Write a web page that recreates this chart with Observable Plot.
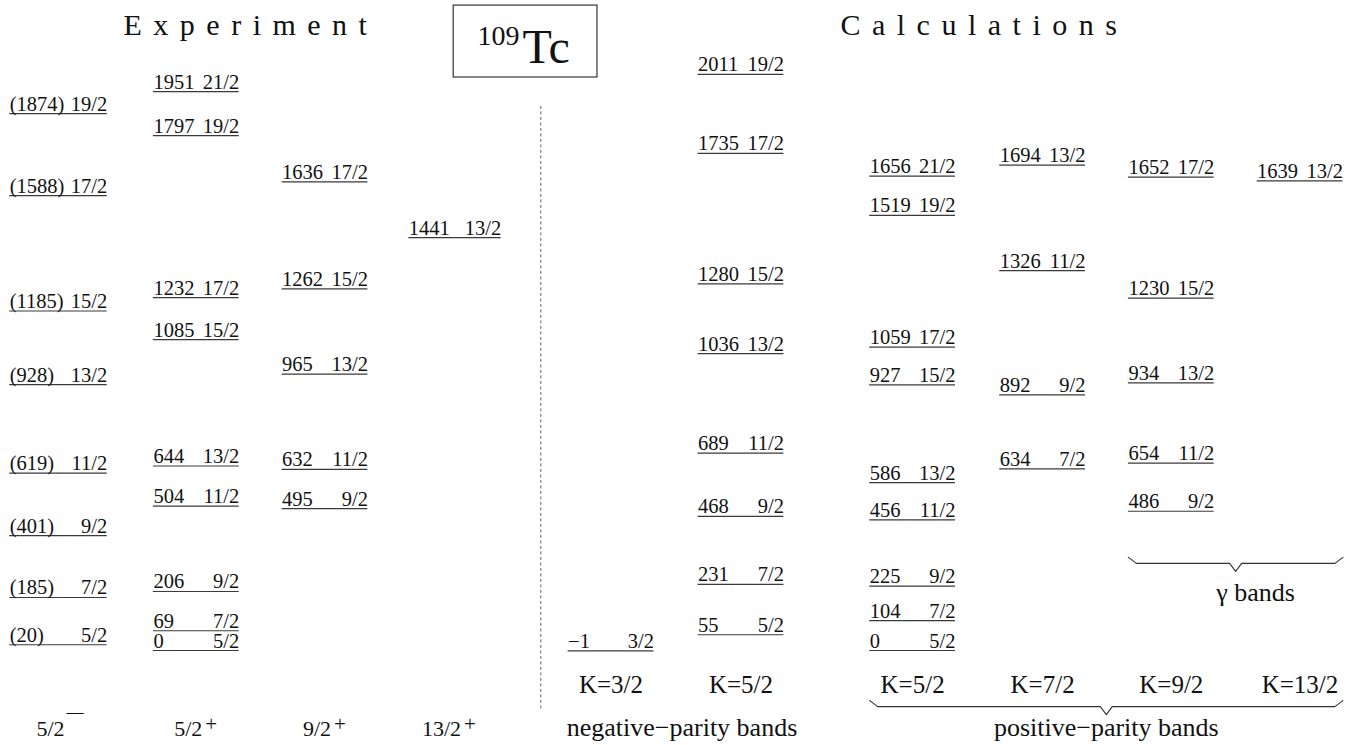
<!DOCTYPE html>
<html>
<head>
<meta charset="utf-8">
<script src="https://cdn.jsdelivr.net/npm/d3@7"></script>
<script src="https://cdn.jsdelivr.net/npm/@observablehq/plot@0.6"></script>
<style>
  html, body { margin: 0; padding: 0; background: #fff; }
  #chart svg { display: block; }
</style>
</head>
<body>
<div id="chart"></div>
<script>
// ---------------- data ----------------
// Experimental bands (levels in keV, spins)
const exp52mEnergy = [20, 185, 401, 619, 928, 1185, 1588, 1874];
const exp52mSpin   = ["5/2", "7/2", "9/2", "11/2", "13/2", "15/2", "17/2", "19/2"];
const exp52pEnergy = [0, 69, 206, 504, 644, 1085, 1232, 1797, 1951];
const exp52pSpin   = ["5/2", "7/2", "9/2", "11/2", "13/2", "15/2", "17/2", "19/2", "21/2"];
const exp92pEnergy = [495, 632, 965, 1262, 1636];
const exp92pSpin   = ["9/2", "11/2", "13/2", "15/2", "17/2"];
const exp132pEnergy = [1441];
const exp132pSpin   = ["13/2"];

// Calculated negative-parity bands
const negK32Energy = [-1];
const negK32Spin   = ["3/2"];
const negK52Energy = [55, 231, 468, 689, 1036, 1280, 1735, 2011];
const negK52Spin   = ["5/2", "7/2", "9/2", "11/2", "13/2", "15/2", "17/2", "19/2"];

// Calculated positive-parity bands
const posK52Energy = [0, 104, 225, 456, 586, 927, 1059, 1519, 1656];
const posK52Spin   = ["5/2", "7/2", "9/2", "11/2", "13/2", "15/2", "17/2", "19/2", "21/2"];
const posK72Energy = [634, 892, 1326, 1694];
const posK72Spin   = ["7/2", "9/2", "11/2", "13/2"];
const posK92Energy = [486, 654, 934, 1230, 1652];
const posK92Spin   = ["9/2", "11/2", "13/2", "15/2", "17/2"];
const posK132Energy = [1639];
const posK132Spin   = ["13/2"];

// Labels
const expBandIds    = ["e52m", "e52p", "e92p", "e132p"];
const expBandSpin   = ["5/2", "5/2", "9/2", "13/2"];
const expBandParity = ["—", "+", "+", "+"];
const calcBandIds   = ["n32", "n52", "p52", "p72", "p92", "p132"];
const calcKLabels   = ["K=3/2", "K=5/2", "K=5/2", "K=7/2", "K=9/2", "K=13/2"];
const titleTexts    = ["Experiment", "Calculations"];
const groupTexts    = ["negative−parity bands", "positive−parity bands", "γ bands"];
const nucleusMass   = "109";
const nucleusSymbol = "Tc";

// ---------------- layout (positions / sizes, not data) ----------------
const slot = {e52m: 0, e52p: 1.06, e92p: 2.05, e132p: 3.05,
              n32: 4.25, n52: 5.25, p52: 6.57, p72: 7.57, p92: 8.56, p132: 9.55};
const halfW = {e52m: 0.375, e132p: 0.355};
const half = id => halfW[id] ?? 0.33;
const X_DOMAIN = [0, 10], X_RANGE = [58, 1358];
const Y_DOMAIN = [0, 2000], Y_RANGE = [650, 77];
const pxPerSlot = (X_RANGE[1] - X_RANGE[0]) / (X_DOMAIN[1] - X_DOMAIN[0]);
const pxPerKeV  = (Y_RANGE[0] - Y_RANGE[1]) / (Y_DOMAIN[1] - Y_DOMAIN[0]);
const FONT = "Liberation Serif";
const INK = "#111";

// ---------------- build tables ----------------
const bands = [
  {id: "e52m", E: exp52mEnergy, J: exp52mSpin, paren: true},
  {id: "e52p", E: exp52pEnergy, J: exp52pSpin},
  {id: "e92p", E: exp92pEnergy, J: exp92pSpin},
  {id: "e132p", E: exp132pEnergy, J: exp132pSpin},
  {id: "n32", E: negK32Energy, J: negK32Spin},
  {id: "n52", E: negK52Energy, J: negK52Spin},
  {id: "p52", E: posK52Energy, J: posK52Spin},
  {id: "p72", E: posK72Energy, J: posK72Spin},
  {id: "p92", E: posK92Energy, J: posK92Spin},
  {id: "p132", E: posK132Energy, J: posK132Spin}
];
const levels = bands.flatMap(b => b.E.map((e, i) => ({
  band: b.id,
  E: e,
  spin: b.J[i],
  elabel: b.paren ? `(${e})` : String(e).replace("-", "−"),
  x1: slot[b.id] - half(b.id),
  x2: slot[b.id] + half(b.id)
})));

const expBottom = expBandIds.map((id, i) => ({x: slot[id], spin: expBandSpin[i], parity: expBandParity[i]}));
const kLabels = calcBandIds.map((id, i) => ({x: slot[id], text: calcKLabels[i]}));

// braces: from left edge of band a to right edge of band b
function brace(name, a, b, E) {
  const xa = slot[a] - half(a), xb = slot[b] + half(b), xm = (xa + xb) / 2;
  const inset = 8 / pxPerSlot, tipW = 6 / pxPerSlot;
  const rise = 6 / pxPerKeV, drop = 8 / pxPerKeV;
  return [
    [xa, E + rise], [xa + inset, E], [xm - tipW, E], [xm, E - drop],
    [xm + tipW, E], [xb - inset, E], [xb, E + rise]
  ].map(([x, y]) => ({name, x, y}));
}
const gammaBrace = brace("gamma", "p92", "p132", 304);
const posBrace = brace("pos", "p52", "p132", -196);
const braceMid = pts => pts[3].x;

const titles = [
  {text: titleTexts[0], x: 0.5, y: 2147},
  {text: titleTexts[1], x: 6.015, y: 2147}
];
const groups = [
  {text: groupTexts[0], x: (slot.n32 + slot.n52) / 2 + 6 / pxPerSlot, y: -297},
  {text: groupTexts[1], x: braceMid(posBrace), y: -297},
  {text: groupTexts[2], x: braceMid(gammaBrace) + 20 / pxPerSlot, y: 174}
];
const box = [{x1: 3.04, x2: 4.146, y1: 2000, y2: 2251}];
const divider = [{x: 3.71, y1: 1899, y2: -209}];

const textCommon = {fontFamily: FONT, fill: INK, lineAnchor: "bottom"};

const plot = Plot.plot({
  width: 1352,
  height: 745,
  margin: 0,
  x: {domain: X_DOMAIN, range: X_RANGE, axis: null},
  y: {domain: Y_DOMAIN, range: Y_RANGE, axis: null},
  style: {fontFamily: FONT, background: "#fff", color: INK},
  marks: [
    // level lines
    Plot.ruleY(levels, {y: "E", x1: "x1", x2: "x2", stroke: "#3a3a3a", strokeWidth: 1.2}),
    // energy labels (left) and spin labels (right)
    Plot.text(levels, {...textCommon, x: "x1", y: "E", text: "elabel", textAnchor: "start", dy: -3, fontSize: 20.5}),
    Plot.text(levels, {...textCommon, x: "x2", y: "E", text: "spin", textAnchor: "end", dy: -3, fontSize: 20.5}),
    // divider
    Plot.ruleX(divider, {x: "x", y1: "y1", y2: "y2", stroke: "#555", strokeWidth: 0.9, strokeDasharray: "3,2.5"}),
    // nucleus box
    Plot.rect(box, {x1: "x1", x2: "x2", y1: "y1", y2: "y2", fill: "none", stroke: "#333", strokeWidth: 1.2}),
    Plot.text([nucleusMass], {...textCommon, x: 3.223, y: 2112, text: d => d, textAnchor: "start", fontSize: 28}),
    Plot.text([nucleusSymbol], {...textCommon, x: 3.57, y: 2049, text: d => d, textAnchor: "start", fontSize: 48}),
    // titles
    Plot.text(titles, {...textCommon, x: "x", y: "y", text: "text", textAnchor: "start", fontSize: 30}),
    // experimental band labels
    Plot.text(expBottom, {...textCommon, x: "x", y: -297, text: "spin", textAnchor: "end", dx: 6, fontSize: 22}),
    Plot.text(expBottom.filter(d => d.parity === "+"), {...textCommon, x: "x", y: -297, text: "parity", textAnchor: "start", dx: 9, dy: -5, fontSize: 21}),
    Plot.text(expBottom.filter(d => d.parity !== "+"), {...textCommon, x: "x", y: -297, text: "parity", textAnchor: "start", dx: 8, dy: -19, fontSize: 17}),
    // K labels
    Plot.text(kLabels, {...textCommon, x: "x", y: -150, text: "text", textAnchor: "middle", fontSize: 25}),
    // braces
    Plot.line([...gammaBrace, ...posBrace], {x: "x", y: "y", z: "name", stroke: "#333", strokeWidth: 1.1}),
    // group labels
    Plot.text(groups, {...textCommon, x: "x", y: "y", text: "text", textAnchor: "middle", fontSize: 26})
  ]
});

document.getElementById("chart").appendChild(plot);

// letter-spaced titles
d3.select(plot).selectAll("text")
  .filter(function () { return titleTexts.includes(this.textContent); })
  .style("letter-spacing", "11.5px");
</script>
</body>
</html>
